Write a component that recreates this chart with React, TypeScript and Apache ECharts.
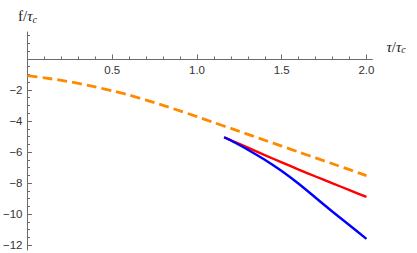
import React, { useEffect, useRef } from "react";
import * as echarts from "echarts";

// tau / tau_c values for the dashed curve
const tauOrange = [0, 0.1, 0.2, 0.3, 0.4, 0.5, 0.6, 0.7, 0.8, 0.9, 1.0, 1.1, 1.2, 1.3, 1.4, 1.5, 1.6, 1.7, 1.8, 1.9, 2.0];
const fOrange = [-1.08, -1.22, -1.38, -1.57, -1.8, -2.05, -2.33, -2.65, -2.99, -3.35, -3.72, -4.1, -4.48, -4.86, -5.24, -5.62, -6.0, -6.38, -6.76, -7.14, -7.52];

// tau / tau_c values for the solid curves
const tauCurves = [1.16, 1.2, 1.3, 1.4, 1.5, 1.6, 1.7, 1.8, 1.9, 2.0];
const fRed = [-5.05, -5.24, -5.72, -6.2, -6.67, -7.13, -7.58, -8.02, -8.46, -8.9];
const fBlue = [-5.05, -5.26, -5.85, -6.5, -7.23, -8.05, -8.95, -9.85, -10.72, -11.6];

// ticks
const xMajorTicks = [0.5, 1.0, 1.5, 2.0];
const xMinorTicks = [0.1, 0.2, 0.3, 0.4, 0.6, 0.7, 0.8, 0.9, 1.1, 1.2, 1.3, 1.4, 1.6, 1.7, 1.8, 1.9];
const yMajorTicks = [-12, -10, -8, -6, -4, -2];
const yMinorTicks = [-11.5, -11, -10.5, -9.5, -9, -8.5, -7.5, -7, -6.5, -5.5, -5, -4.5, -3.5, -3, -2.5, -1.5, -1, -0.5, 0.5, 1, 1.5];

const X_MIN = 0;
const X_MAX = 2.035;
const Y_MIN = -12.32;
const Y_MAX = 1.74;

const GRID_TOP = 32;
const GRID_BOTTOM = 3;
const GRID_HEIGHT = 253 - GRID_TOP - GRID_BOTTOM;
// distance from the grid's bottom edge up to the y = 0 line (puts the x axis on zero)
const X_AXIS_OFFSET = -(GRID_HEIGHT * (0 - Y_MIN)) / (Y_MAX - Y_MIN);

const AXIS_COLOR = "#6b6b6b";
const LABEL_COLOR = "#333";
const LABEL_FONT = "Liberation Sans";

const zip = (xs: number[], ys: number[]) => xs.map((x, i) => [x, ys[i]]);
const fmtY = (v: number) => (v < 0 ? "\u2212" + Math.abs(v) : String(v));

export default function App() {
  const ref = useRef<HTMLDivElement>(null);

  useEffect(() => {
    document.body.style.margin = "0";
    if (!ref.current) return;
    const chart = echarts.init(ref.current, null, { renderer: "svg" });

    const titleRich = {
      n: { fontFamily: "Liberation Serif", fontSize: 15, color: "#222" },
      t: { fontFamily: "Liberation Serif", fontStyle: "italic", fontSize: 15, color: "#222" },
      s: { fontFamily: "Liberation Serif", fontStyle: "italic", fontSize: 10, color: "#222", verticalAlign: "bottom", padding: [6, 0, 0, 0] },
    };

    chart.setOption({
      animation: false,
      backgroundColor: "#fff",
      grid: { left: 25, right: 417 - 372.4, top: GRID_TOP, bottom: GRID_BOTTOM, containLabel: false },
      xAxis: [
        {
          type: "value",
          min: X_MIN,
          max: X_MAX,
          position: "bottom",
          offset: X_AXIS_OFFSET,
          axisLine: { show: true, onZero: false, lineStyle: { color: AXIS_COLOR, width: 1 } },
          axisTick: { show: true, inside: true, length: 4.5, customValues: xMajorTicks, lineStyle: { color: AXIS_COLOR } },
          axisLabel: {
            show: true,
            customValues: xMajorTicks,
            margin: 5,
            color: LABEL_COLOR,
            fontFamily: LABEL_FONT,
            fontSize: 11.5,
            formatter: (v: number) => v.toFixed(1),
          },
          splitLine: { show: false },
          name: "{t|τ}{n|/}{t|τ}{s|c}",
          nameLocation: "end",
          nameGap: 14,
          nameTextStyle: { align: "left", verticalAlign: "bottom", padding: [0, 0, 4, 0], rich: titleRich },
        },
        {
          type: "value",
          min: X_MIN,
          max: X_MAX,
          position: "bottom",
          offset: X_AXIS_OFFSET,
          axisLine: { show: false, onZero: false },
          axisTick: { show: true, inside: true, length: 2.5, customValues: xMinorTicks, lineStyle: { color: AXIS_COLOR } },
          axisLabel: { show: false },
          splitLine: { show: false },
        },
      ],
      yAxis: [
        {
          type: "value",
          min: Y_MIN,
          max: Y_MAX,
          position: "left",
          axisLine: { show: true, onZero: false, lineStyle: { color: AXIS_COLOR, width: 1 } },
          axisTick: { show: true, inside: true, length: 4.5, customValues: yMajorTicks, lineStyle: { color: AXIS_COLOR } },
          axisLabel: {
            show: true,
            customValues: yMajorTicks,
            margin: 5,
            color: LABEL_COLOR,
            fontFamily: LABEL_FONT,
            fontSize: 11.5,
            formatter: fmtY,
          },
          splitLine: { show: false },
          name: "{n|f/}{t|τ}{s|c}",
          nameLocation: "end",
          nameGap: 8,
          nameTextStyle: { align: "center", rich: titleRich },
        },
        {
          type: "value",
          min: Y_MIN,
          max: Y_MAX,
          position: "left",
          axisLine: { show: false, onZero: false },
          axisTick: { show: true, inside: true, length: 2.5, customValues: yMinorTicks, lineStyle: { color: AXIS_COLOR } },
          axisLabel: { show: false },
          splitLine: { show: false },
        },
      ],
      series: [
        {
          type: "line",
          data: zip(tauOrange, fOrange),
          showSymbol: false,
          smooth: 0.25,
          lineStyle: { color: "#ff8a00", width: 2.8, type: [10, 5] },
          z: 3,
        },
        {
          type: "line",
          data: zip(tauCurves, fRed),
          showSymbol: false,
          smooth: 0.25,
          lineStyle: { color: "#ff0000", width: 2.4 },
          z: 4,
        },
        {
          type: "line",
          data: zip(tauCurves, fBlue),
          showSymbol: false,
          smooth: 0.25,
          lineStyle: { color: "#0000ff", width: 2.4 },
          z: 5,
        },
      ],
    });

    return () => chart.dispose();
  }, []);

  return <div ref={ref} style={{ width: 417, height: 253 }} />;
}
